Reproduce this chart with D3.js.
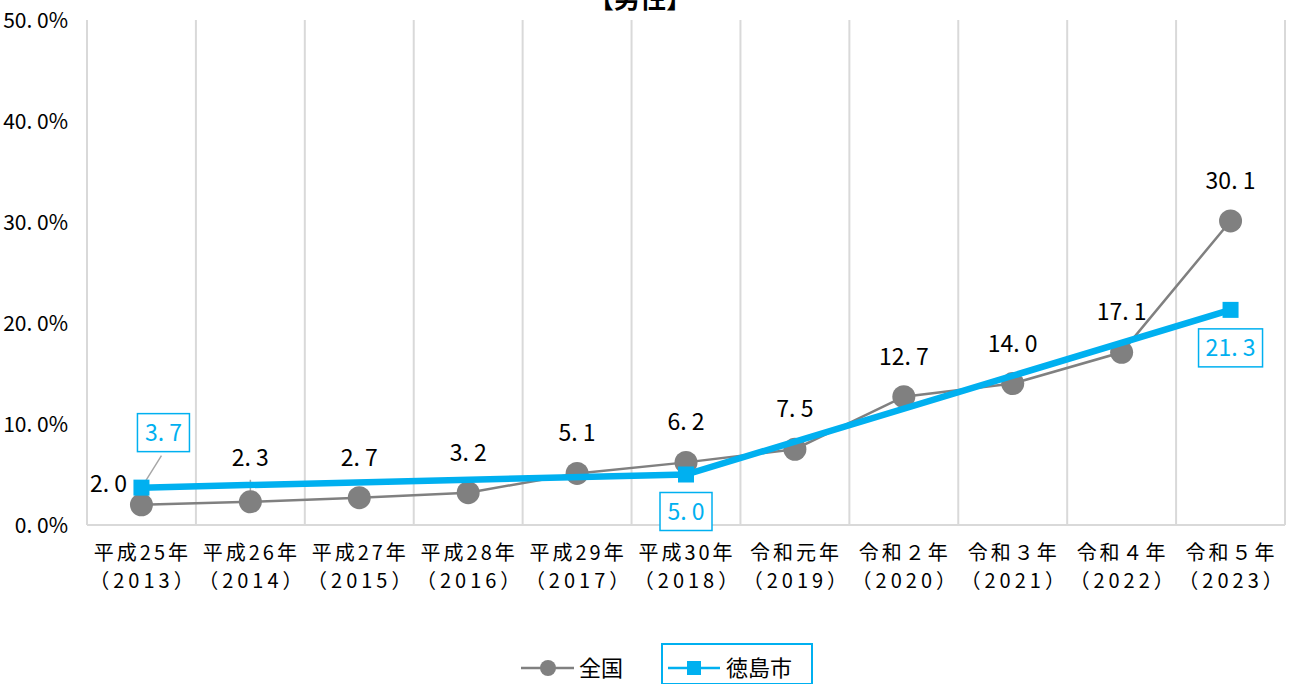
<!DOCTYPE html>
<html>
<head>
<meta charset="utf-8">
<script src="https://cdn.jsdelivr.net/npm/d3@7"></script>
<style>
  body { margin: 0; background: #fff; }
  text { font-family: "Noto Sans CJK JP", "Noto Sans", sans-serif; }
</style>
</head>
<body>
<div id="chart"></div>
<script>
// categories (two-line labels)
const years = ["2013", "2014", "2015", "2016", "2017", "2018", "2019", "2020", "2021", "2022", "2023"];
const eraLabels = ["平成25年", "平成26年", "平成27年", "平成28年", "平成29年", "平成30年", "令和元年", "令和２年", "令和３年", "令和４年", "令和５年"];
const yearLabels = ["（2013）", "（2014）", "（2015）", "（2016）", "（2017）", "（2018）", "（2019）", "（2020）", "（2021）", "（2022）", "（2023）"];
// series values (%)
const national = [2.0, 2.3, 2.7, 3.2, 5.1, 6.2, 7.5, 12.7, 14.0, 17.1, 30.1];
const tokushima = [3.7, null, null, null, null, 5.0, null, null, null, null, 21.3];
const yTicks = [0, 10, 20, 30, 40, 50];

const W = 1291, H = 684;
const margin = { top: 20, right: 6, bottom: 159, left: 87 };
const width = W - margin.left - margin.right;
const height = H - margin.top - margin.bottom;

const svg = d3.select("#chart").append("svg")
    .attr("width", W).attr("height", H);

const g = svg.append("g")
    .attr("transform", "translate(" + margin.left + "," + margin.top + ")");

const x = d3.scaleBand().domain(years).range([0, width]);
const y = d3.scaleLinear().domain([0, 50]).range([height, 0]);
const cx = d => x(d) + x.bandwidth() / 2;
const fmt = v => v.toFixed(1).replace(".", ". ");

// title (cut off at top like the source)
svg.append("text")
    .attr("x", 640).attr("y", 8)
    .attr("text-anchor", "middle")
    .style("font-size", "26px").style("font-weight", "bold")
    .text("【男性】");

// vertical category separators
const seps = years.map(d => x(d)).concat([width]);
g.selectAll(".sep").data(seps).enter().append("line")
    .attr("class", "sep")
    .attr("x1", d => d).attr("x2", d => d)
    .attr("y1", 0).attr("y2", height)
    .attr("stroke", "#d9d9d9").attr("stroke-width", 2);

// baseline
g.append("line")
    .attr("x1", 0).attr("x2", width)
    .attr("y1", y(0)).attr("y2", y(0))
    .attr("stroke", "#d9d9d9").attr("stroke-width", 2);

// y axis labels
const yAxis = g.append("g").call(d3.axisLeft(y).tickValues(yTicks).tickSize(0).tickPadding(19)
    .tickFormat(d => fmt(d) + "%"));
yAxis.select(".domain").remove();
yAxis.selectAll("text").style("font-size", "21px").attr("fill", "#000").attr("dy", "0.35em");

// x axis labels
const xl = g.append("g").attr("transform", "translate(0," + height + ")");
xl.selectAll(".era").data(years).enter().append("text")
    .attr("x", d => cx(d) + 1).attr("y", 35)
    .attr("text-anchor", "middle")
    .style("font-size", "20px").style("letter-spacing", "3px")
    .text((d, i) => eraLabels[i]);
xl.selectAll(".yr").data(years).enter().append("text")
    .attr("x", d => cx(d) + 2).attr("y", 63)
    .attr("text-anchor", "middle")
    .style("font-size", "20px").style("letter-spacing", "4px")
    .text((d, i) => yearLabels[i]);

// national series
const natData = years.map((d, i) => ({ year: d, v: national[i] }));
const line = d3.line().x(d => cx(d.year)).y(d => y(d.v));
g.append("path").datum(natData)
    .attr("d", line).attr("fill", "none")
    .attr("stroke", "#808080").attr("stroke-width", 2.5);

// tokushima series (gaps spanned)
const tokData = years.map((d, i) => ({ year: d, v: tokushima[i] })).filter(d => d.v !== null);

// leader lines for labels
const leaders = [
    { x1: cx("2013"), y1: y(3.7), x2: cx("2013") + 20, y2: y(3.7) - 32 },
    { x1: cx("2014"), y1: y(2.3), x2: cx("2014"), y2: y(2.3) - 22 }
];
g.selectAll(".leader").data(leaders).enter().append("line")
    .attr("x1", d => d.x1).attr("y1", d => d.y1)
    .attr("x2", d => d.x2).attr("y2", d => d.y2)
    .attr("stroke", "#a6a6a6").attr("stroke-width", 1.5);

g.selectAll(".nat").data(natData).enter().append("circle")
    .attr("cx", d => cx(d.year)).attr("cy", d => y(d.v))
    .attr("r", 11.5).attr("fill", "#808080");

g.append("path").datum(tokData)
    .attr("d", line).attr("fill", "none")
    .attr("stroke", "#00b0f0").attr("stroke-width", 6.5);

g.selectAll(".tok").data(tokData).enter().append("rect")
    .attr("x", d => cx(d.year) - 8).attr("y", d => y(d.v) - 8)
    .attr("width", 16).attr("height", 16).attr("fill", "#00b0f0");

// national labels
const natOffsets = natData.map((d, i) => {
    if (i === 0) return { dx: -33, dy: -13 };
    if (i === 1) return { dx: 0, dy: -36 };
    return { dx: 0, dy: -32 };
});
g.selectAll(".natlab").data(natData).enter().append("text")
    .attr("x", (d, i) => cx(d.year) + natOffsets[i].dx)
    .attr("y", (d, i) => y(d.v) + natOffsets[i].dy)
    .attr("text-anchor", "middle")
    .style("font-size", "23px").attr("fill", "#000")
    .text(d => fmt(d.v));

// tokushima labels in boxes
const tokOffsets = { "2013": { dx: 22, dy: -55 }, "2018": { dx: 0, dy: 37 }, "2023": { dx: 0, dy: 38 } };
const tl = g.selectAll(".toklab").data(tokData).enter().append("g")
    .attr("transform", d => "translate(" + (cx(d.year) + tokOffsets[d.year].dx) + "," + (y(d.v) + tokOffsets[d.year].dy) + ")");
tl.append("rect")
    .attr("x", d => d.v >= 10 ? -32 : -26).attr("y", -19)
    .attr("width", d => d.v >= 10 ? 64 : 52).attr("height", 38)
    .attr("fill", "#fff").attr("stroke", "#00b0f0").attr("stroke-width", 1.5);
tl.append("text")
    .attr("text-anchor", "middle").attr("dy", "0.35em")
    .style("font-size", "23px").attr("fill", "#00b0f0")
    .text(d => fmt(d.v));

// legend
const lg = svg.append("g").attr("transform", "translate(0,668)");
lg.append("line").attr("x1", 521).attr("x2", 574).attr("y1", 0).attr("y2", 0)
    .attr("stroke", "#808080").attr("stroke-width", 2.5);
lg.append("circle").attr("cx", 548).attr("cy", 0).attr("r", 8).attr("fill", "#808080");
lg.append("text").attr("x", 579).attr("y", 0).attr("dy", "0.35em")
    .style("font-size", "22px").text("全国");
lg.append("rect").attr("x", 662).attr("y", -24).attr("width", 150).attr("height", 40)
    .attr("fill", "none").attr("stroke", "#00b0f0").attr("stroke-width", 2);
lg.append("line").attr("x1", 668).attr("x2", 720).attr("y1", 0).attr("y2", 0)
    .attr("stroke", "#00b0f0").attr("stroke-width", 2.5);
lg.append("rect").attr("x", 687).attr("y", -7).attr("width", 14).attr("height", 14).attr("fill", "#00b0f0");
lg.append("text").attr("x", 726).attr("y", 0).attr("dy", "0.35em")
    .style("font-size", "22px").text("徳島市");
</script>
</body>
</html>
